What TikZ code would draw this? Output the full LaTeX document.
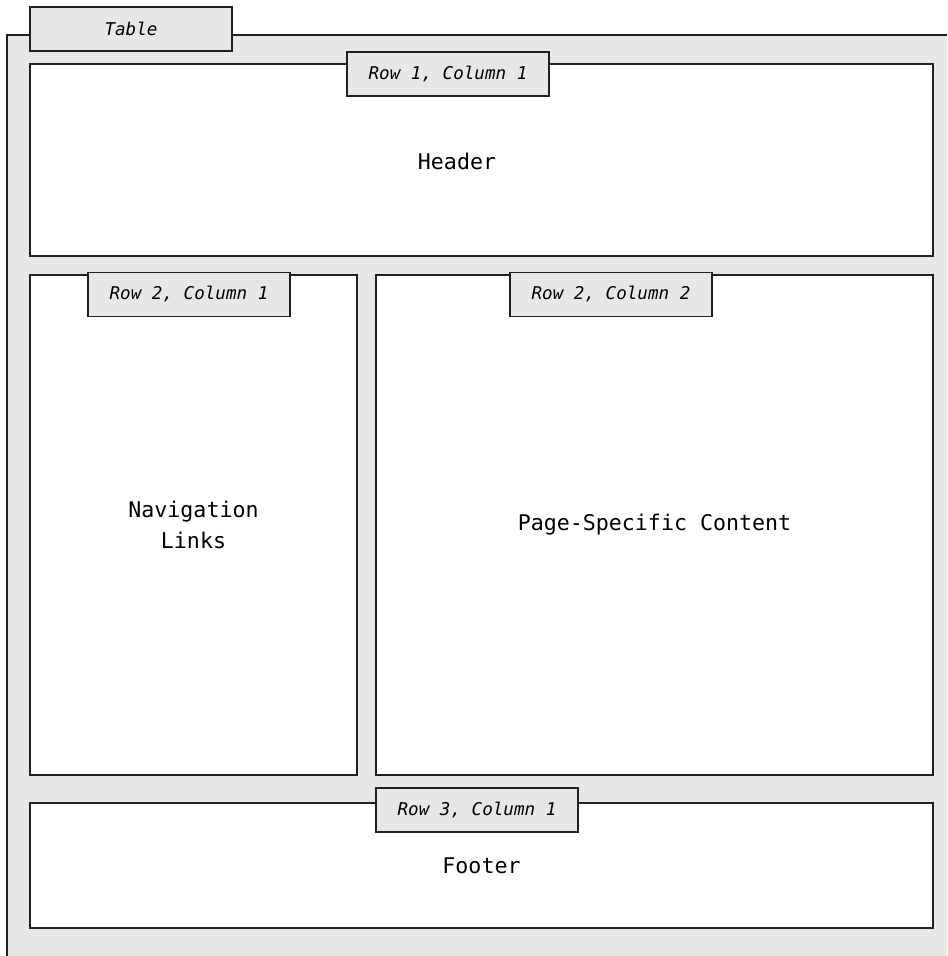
\documentclass[tikz,border=0pt]{standalone}
\usepackage{fontspec}
\setmainfont{DejaVu Sans Mono}
\usepackage{xcolor}
\definecolor{TabGray}{HTML}{E6E7E8}
\definecolor{EdgeGray}{HTML}{231F20}
\usepackage{tikz}
\usetikzlibrary{positioning}

\begin{document}
\begin{tikzpicture}
\tikzstyle{cell}=[draw=EdgeGray,line width=1.1pt,fill=white,align=center,inner sep=0pt,font=\fontsize{12.3}{18}\selectfont]
\tikzstyle{tab}=[draw=EdgeGray,line width=1pt,fill=TabGray,minimum width=4.04cm,minimum height=0.88cm,inner sep=0pt,font=\fontsize{10}{12}\selectfont\itshape]
\useasboundingbox (0,0) rectangle (18.94,-19.12);
% table background
\fill[TabGray] (0.14,-0.70) rectangle (18.94,-19.12);
\draw[EdgeGray,line width=1.1pt] (0.14,-19.12)--(0.14,-0.70)--(18.94,-0.70);
\node[tab] (tbl) at (2.62,-0.585) {Table};
% cells
\node[cell,minimum width=18.06cm,minimum height=3.84cm] (hdr) at (9.63,-3.20) {};
\node[font=\fontsize{12.3}{18}\selectfont] (hdrtxt) at (9.14,-3.22) {Header};
\node[cell,minimum width=6.54cm,minimum height=10cm] (nav) at (3.87,-10.50) {Navigation\\Links};
\node[cell,minimum width=11.14cm,minimum height=10cm] (main) at (13.09,-10.50) {Page-Specific Content};
\node[cell,minimum width=18.06cm,minimum height=2.50cm] (ftr) at (9.63,-17.31) {Footer};
% tabs
\node[tab] (t11) at (8.96,-1.48) {Row 1, Column 1};
\node[tab] (t21) at (3.78,-5.89) {Row 2, Column 1};
\node[tab] (t22) at (12.22,-5.89) {Row 2, Column 2};
\node[tab] (t31) at (9.54,-16.20) {Row 3, Column 1};
\end{tikzpicture}
\end{document}
